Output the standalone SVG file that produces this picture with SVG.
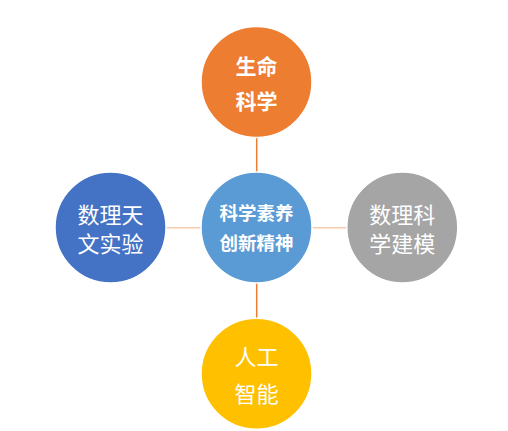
<svg xmlns="http://www.w3.org/2000/svg" width="508" height="431" viewBox="0 0 508 431">
<style>
.n{stroke:#ffffff;stroke-width:1.5}
.t{font-family:"Noto Sans CJK SC","Noto Sans",sans-serif;fill:#ffffff;text-anchor:middle;dominant-baseline:central}
.b{font-weight:bold}
.c{stroke-width:1.5;fill:none}
</style>
<rect width="508" height="431" fill="#ffffff"/>
<g id="connectors">
<line class="c" x1="256.7" y1="137.5" x2="256.7" y2="172" stroke="#ed7d31"/>
<line class="c" x1="256.7" y1="283" x2="256.7" y2="318.5" stroke="#ed7d31"/>
<line class="c" x1="165.5" y1="227.7" x2="201.5" y2="227.7" stroke="#f8cbad"/>
<line class="c" x1="311.5" y1="227.7" x2="347" y2="227.7" stroke="#f8cbad"/>
</g>
<g id="top">
<circle class="n" cx="256.5" cy="82" r="55.5" fill="#ed7d31"/>
<text class="t b" x="256.5" y="65" font-size="21">生命</text>
<text class="t b" x="256.5" y="100" font-size="21">科学</text>
</g>
<g id="center">
<circle class="n" cx="256.5" cy="227.5" r="55.5" fill="#5b9bd5"/>
<text class="t b" x="256.5" y="212" font-size="18.5">科学素养</text>
<text class="t b" x="256.5" y="242" font-size="18.5">创新精神</text>
</g>
<g id="left">
<circle class="n" cx="110.5" cy="227.5" r="55.5" fill="#4472c4"/>
<text class="t" x="110.5" y="213" font-size="22">数理天</text>
<text class="t" x="110.5" y="242" font-size="22">文实验</text>
</g>
<g id="right">
<circle class="n" cx="402.3" cy="227.5" r="55.5" fill="#a5a5a5"/>
<text class="t" x="402.3" y="213" font-size="22">数理科</text>
<text class="t" x="402.3" y="242" font-size="22">学建模</text>
</g>
<g id="bottom">
<circle class="n" cx="256.5" cy="373.7" r="55.5" fill="#ffc000"/>
<text class="t" x="256.5" y="355" font-size="22">人工</text>
<text class="t" x="256.5" y="391.5" font-size="22">智能</text>
</g>
</svg>
